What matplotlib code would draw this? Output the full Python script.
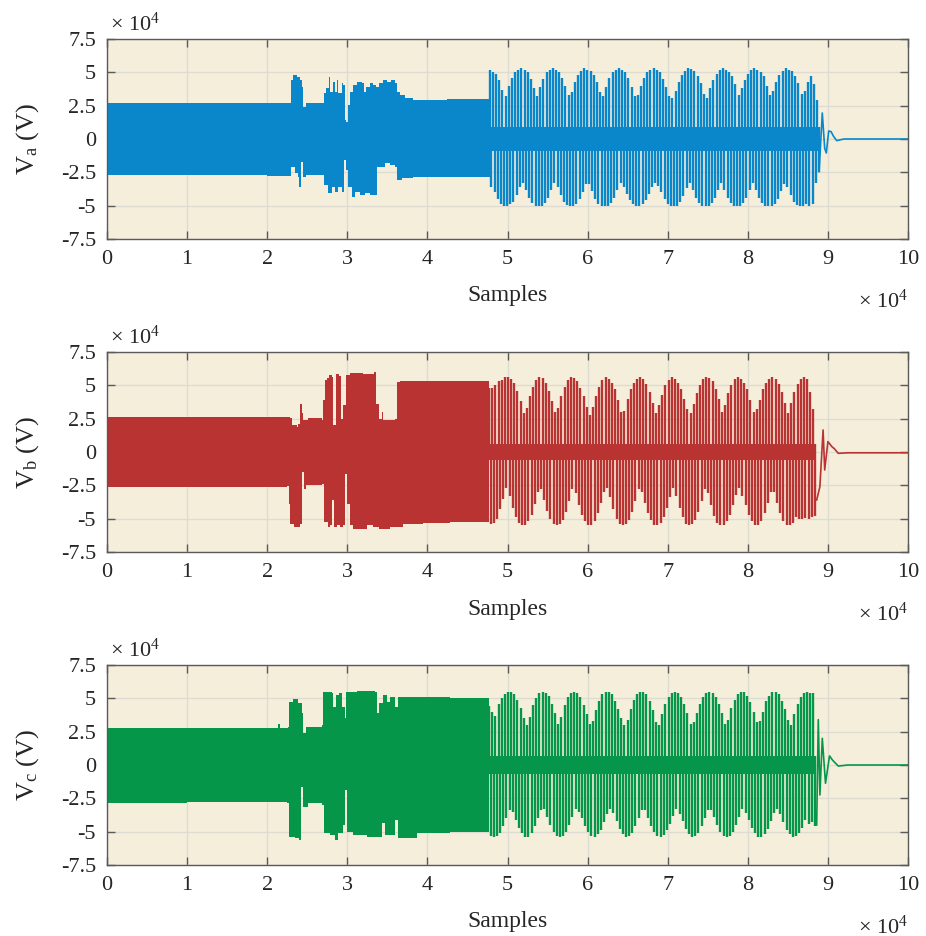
import numpy as np
import matplotlib
matplotlib.use('Agg')
import matplotlib.pyplot as plt

# ---------------- data (x in units of 1e4 samples, y in units of 1e4 V) ----------------
x_ticks = [0, 1, 2, 3, 4, 5, 6, 7, 8, 9, 10]
y_ticks = [-7.5, -5, -2.5, 0, 2.5, 5, 7.5]
y_ticklabels = ['-7.5', '-5', '-2.5', '0', '2.5', '5', '7.5']
ylabels = [r'V$_{\mathrm{a}}$ (V)', r'V$_{\mathrm{b}}$ (V)', r'V$_{\mathrm{c}}$ (V)']

# --- dense (high-frequency) part: upper / lower envelopes ---
va_hi_x = [0, 1.0, 2.0, 2.285, 2.293, 2.318, 2.368, 2.41, 2.435, 2.45, 2.49, 2.69, 2.71, 2.734, 2.776,
           2.79, 2.818, 2.847, 2.867, 2.89, 2.93, 2.95, 2.967, 2.99, 3.01, 3.03, 3.07, 3.117, 3.18, 3.21,
           3.234, 3.28, 3.325, 3.354, 3.39, 3.45, 3.49, 3.55, 3.596, 3.617, 3.66, 3.72, 3.82, 4.24, 4.78]
va_hi_y = [2.68, 2.70, 2.72, 2.72, 4.43, 4.80, 4.67, 4.43, 3.93, 2.43, 2.72, 2.72, 3.43, 3.80, 4.68,
           3.55, 4.30, 3.55, 4.43, 3.43, 4.18, 4.05, 1.43, 1.30, 2.55, 3.55, 4.05, 4.30, 4.18, 3.55,
           3.93, 4.18, 4.05, 3.93, 4.18, 4.43, 4.30, 4.43, 4.18, 3.55, 3.30, 3.05, 2.93, 2.98, 2.88]
va_lo_x = [0, 1.0, 2.0, 2.285, 2.293, 2.35, 2.39, 2.40, 2.418, 2.45, 2.49, 2.69, 2.71, 2.76, 2.805,
           2.847, 2.89, 2.93, 2.96, 2.99, 3.01, 3.055, 3.10, 3.16, 3.22, 3.28, 3.345, 3.367, 3.41, 3.47,
           3.53, 3.596, 3.625, 3.68, 3.82, 4.24, 4.78]
va_lo_y = [-2.70, -2.72, -2.75, -2.75, -2.08, -2.58, -2.83, -3.58, -1.70, -2.83, -2.70, -2.70, -3.45, -4.08, -3.58,
           -3.95, -3.58, -3.95, -1.58, -2.33, -3.58, -4.33, -3.95, -4.20, -4.08, -4.20, -4.20, -2.08, -2.08, -1.83,
           -1.95, -2.08, -3.08, -2.95, -2.83, -2.83, -2.78]

vb_hi_x = [0, 1.0, 2.0, 2.285, 2.305, 2.368, 2.39, 2.41, 2.43, 2.45, 2.51, 2.68, 2.70, 2.72, 2.75,
           2.775, 2.805, 2.825, 2.86, 2.90, 2.917, 2.95, 2.985, 3.03, 3.20, 3.333, 3.36, 3.39, 3.43, 3.45,
           3.595, 3.615, 3.66, 4.28, 4.77]
vb_hi_y = [2.63, 2.65, 2.62, 2.58, 2.00, 1.88, 2.13, 3.63, 2.93, 2.38, 2.58, 2.43, 3.88, 5.43, 5.58,
           5.76, 5.63, 2.00, 5.83, 5.68, 2.50, 3.50, 5.76, 5.93, 5.83, 6.00, 3.63, 2.50, 3.00, 2.43,
           2.50, 5.25, 5.33, 5.33, 5.13]
vb_lo_x = [0, 1.0, 2.0, 2.25, 2.27, 2.285, 2.33, 2.41, 2.43, 2.46, 2.49, 2.68, 2.71, 2.76, 2.785,
           2.805, 2.83, 2.867, 2.91, 2.95, 2.97, 3.0, 3.03, 3.075, 3.16, 3.24, 3.325, 3.39, 3.53, 3.70,
           3.95, 4.28, 4.77]
vb_lo_y = [-2.63, -2.62, -2.60, -2.58, -3.88, -5.43, -5.63, -5.38, -1.50, -2.75, -2.50, -2.38, -5.25, -5.63, -5.50,
           -3.63, -5.63, -5.50, -5.63, -5.50, -1.63, -3.88, -5.50, -5.75, -5.75, -5.50, -5.63, -5.75, -5.63, -5.38,
           -5.33, -5.25, -5.18]

vc_hi_x = [0, 1.0, 2.14, 2.16, 2.265, 2.276, 2.317, 2.39, 2.43, 2.45, 2.49, 2.68, 2.70, 2.805, 2.825,
           2.86, 2.90, 2.93, 2.97, 2.99, 3.12, 3.345, 3.365, 3.39, 3.45, 3.49, 3.53, 3.595, 3.637, 3.865,
           4.28, 4.77]
vc_hi_y = [2.80, 2.78, 3.07, 2.75, 2.82, 4.75, 4.93, 4.63, 3.88, 2.38, 2.82, 3.00, 5.50, 5.38, 4.38,
           5.25, 5.43, 4.38, 3.50, 5.50, 5.58, 5.50, 3.88, 4.63, 5.25, 4.75, 5.13, 4.38, 5.13, 5.08,
           5.00, 4.88]
vc_lo_x = [0, 1.0, 2.25, 2.27, 2.35, 2.40, 2.42, 2.45, 2.51, 2.69, 2.71, 2.785, 2.85, 2.89, 2.95,
           2.97, 3.0, 3.075, 3.24, 3.43, 3.47, 3.595, 3.637, 3.865, 4.28, 4.77]
vc_lo_y = [-2.83, -2.80, -2.83, -5.38, -5.50, -5.63, -1.63, -3.13, -2.83, -3.00, -5.13, -5.25, -5.63, -5.13, -4.50,
           -1.88, -5.00, -5.25, -5.38, -4.38, -5.25, -4.13, -5.50, -5.13, -5.00, -5.00]

# --- spiky (beating) part: first spike position, spike spacing, central band, spike peaks ---
va_spk_start, vb_spk_start, vc_spk_start = 4.78, 4.77, 4.77
spk_step = 0.0393
va_band, vb_band, vc_band = 0.9, 0.6, 0.7

va_up = [5.20, 5.00, 4.90, 4.40, 3.70, 3.20, 4.00, 4.60, 5.00, 5.20,
         5.30, 5.15, 5.00, 4.50, 3.80, 3.20, 3.90, 4.50, 5.00, 5.20,
         5.30, 5.20, 5.05, 4.60, 4.00, 3.30, 3.50, 4.30, 4.80, 5.10,
         5.30, 5.20, 5.10, 4.80, 4.30, 3.50, 3.20, 3.90, 4.60, 5.00,
         5.20, 5.30, 5.20, 5.00, 4.60, 3.90, 3.20, 3.30, 4.00, 4.60,
         5.00, 5.20, 5.30, 5.20, 5.00, 4.50, 3.90, 3.20, 3.10, 3.60,
         4.30, 4.80, 5.10, 5.30, 5.25, 5.10, 4.70, 4.20, 3.40, 3.10,
         3.80, 4.40, 4.90, 5.15, 5.30, 5.20, 5.05, 4.70, 4.10, 3.30,
         3.80, 4.40, 4.90, 5.15, 5.30, 5.20, 5.05, 4.70, 4.00, 3.30,
         3.60, 4.30, 4.80, 5.10, 5.30, 5.20, 5.10, 4.70, 4.20, 3.40,
         3.60, 4.30, 4.70, 4.10, 2.90]
va_dn = [-3.60, -4.00, -4.50, -4.85, -5.00, -5.05, -4.90, -4.70, -4.20, -3.60,
         -3.30, -3.80, -4.40, -4.80, -5.00, -5.05, -5.00, -4.80, -4.40, -3.80,
         -3.30, -3.60, -4.20, -4.70, -4.95, -5.05, -5.00, -4.85, -4.50, -4.00,
         -3.40, -3.40, -3.90, -4.50, -4.85, -5.00, -5.05, -5.00, -4.80, -4.40,
         -3.80, -3.30, -3.60, -4.10, -4.60, -4.90, -5.05, -5.05, -4.90, -4.60,
         -4.10, -3.60, -3.30, -3.50, -4.00, -4.50, -4.85, -5.00, -5.05, -5.00,
         -4.75, -4.30, -3.70, -3.30, -3.80, -4.40, -4.80, -5.00, -5.05, -5.00,
         -4.80, -4.40, -3.80, -3.30, -3.80, -4.40, -4.80, -5.00, -5.05, -5.00,
         -4.80, -4.40, -3.80, -3.30, -3.80, -4.40, -4.80, -5.00, -5.05, -5.00,
         -4.85, -4.50, -3.90, -3.40, -3.60, -4.20, -4.70, -4.95, -5.05, -5.00,
         -4.90, -5.00, -4.90, -3.30, -2.50]

vb_up = [4.80, 4.80, 5.00, 5.30, 5.40, 5.60, 5.60, 5.50, 5.20, 4.60,
         3.80, 2.90, 3.30, 4.20, 4.90, 5.40, 5.60, 5.55, 5.20, 4.60,
         3.80, 3.00, 3.30, 4.20, 4.90, 5.40, 5.60, 5.55, 5.30, 4.80,
         4.20, 3.40, 2.80, 3.40, 4.20, 4.90, 5.40, 5.60, 5.50, 5.20,
         4.70, 3.90, 3.00, 3.10, 4.00, 4.70, 5.20, 5.50, 5.60, 5.50,
         5.10, 4.50, 3.70, 2.90, 3.50, 4.30, 5.00, 5.40, 5.60, 5.50,
         5.20, 4.70, 4.00, 3.20, 2.90, 3.60, 4.40, 5.00, 5.45, 5.60,
         5.55, 5.30, 4.70, 4.00, 3.00, 3.50, 4.40, 5.00, 5.45, 5.60,
         5.50, 5.20, 4.70, 3.90, 3.00, 3.20, 3.90, 4.70, 5.20, 5.50,
         5.60, 5.50, 5.10, 4.50, 3.70, 2.90, 3.70, 4.50, 5.10, 5.50,
         5.60, 5.50, 4.50, 3.20]
vb_dn = [-5.40, -5.30, -5.00, -4.30, -3.50, -2.70, -3.30, -4.20, -4.90, -5.30,
         -5.50, -5.45, -5.20, -4.70, -3.90, -3.00, -2.80, -3.60, -4.40, -5.00,
         -5.40, -5.50, -5.40, -5.10, -4.50, -3.70, -2.80, -3.10, -4.00, -4.70,
         -5.20, -5.50, -5.45, -5.20, -4.60, -3.80, -3.00, -2.70, -3.40, -4.30,
         -5.00, -5.40, -5.50, -5.40, -5.10, -4.50, -3.70, -2.80, -3.00, -3.80,
         -4.60, -5.10, -5.45, -5.50, -5.30, -4.90, -4.20, -3.40, -2.70, -3.30,
         -4.20, -4.90, -5.40, -5.50, -5.40, -5.10, -4.50, -3.70, -2.80, -3.10,
         -4.00, -4.80, -5.30, -5.50, -5.45, -5.20, -4.70, -4.00, -3.20, -2.70,
         -3.30, -4.00, -4.70, -5.20, -5.50, -5.45, -5.20, -4.60, -3.80, -3.00,
         -3.00, -3.80, -4.60, -5.20, -5.45, -5.50, -5.30, -4.90, -5.00, -5.00,
         -4.95, -5.00, -4.90, -4.80]

vc_up = [4.40, 4.00, 3.70, 4.60, 5.00, 5.30, 5.50, 5.50, 5.30, 4.90,
         4.30, 3.50, 3.00, 3.60, 4.50, 5.00, 5.40, 5.50, 5.40, 5.15,
         4.60, 3.90, 3.10, 3.60, 4.50, 5.10, 5.40, 5.50, 5.40, 5.10,
         4.50, 3.80, 3.10, 3.30, 4.10, 4.80, 5.30, 5.50, 5.50, 5.30,
         4.80, 4.20, 3.50, 3.00, 3.40, 4.20, 4.90, 5.30, 5.50, 5.50,
         5.30, 4.80, 4.10, 3.20, 3.00, 3.80, 4.60, 5.10, 5.40, 5.50,
         5.40, 5.10, 4.60, 3.90, 3.10, 3.20, 3.90, 4.60, 5.10, 5.40,
         5.50, 5.40, 5.10, 4.60, 3.90, 3.10, 3.40, 4.30, 4.90, 5.30,
         5.50, 5.50, 5.20, 4.70, 4.00, 3.20, 3.30, 4.00, 4.80, 5.20,
         5.50, 5.50, 5.30, 4.80, 4.20, 3.40, 3.00, 3.80, 4.60, 5.10,
         5.40, 5.50, 5.40, 5.40]
vc_dn = [-5.30, -5.40, -5.35, -5.10, -4.60, -4.00, -3.40, -3.50, -4.10, -4.70,
         -5.10, -5.40, -5.40, -5.10, -4.60, -4.00, -3.40, -3.30, -3.90, -4.50,
         -5.00, -5.30, -5.40, -5.30, -5.00, -4.50, -3.90, -3.30, -3.50, -4.00,
         -4.60, -5.00, -5.35, -5.40, -5.20, -4.90, -4.30, -3.70, -3.30, -3.60,
         -4.20, -4.80, -5.20, -5.40, -5.35, -5.10, -4.60, -4.00, -3.40, -3.40,
         -4.00, -4.60, -5.05, -5.35, -5.40, -5.25, -4.90, -4.40, -3.80, -3.30,
         -3.70, -4.20, -4.80, -5.20, -5.40, -5.35, -5.10, -4.60, -4.00, -3.40,
         -3.40, -3.90, -4.50, -5.00, -5.30, -5.40, -5.30, -5.00, -4.50, -3.90,
         -3.30, -3.60, -4.10, -4.70, -5.10, -5.40, -5.40, -5.20, -4.80, -4.20,
         -3.60, -3.30, -3.70, -4.30, -4.90, -5.20, -5.40, -5.35, -5.10, -4.70,
         -4.10, -4.40, -4.30, -4.60]

# --- decaying tail after the fault is cleared ---
va_tail_x = [8.89, 8.93, 8.96, 8.98, 9.01, 9.04, 9.07, 9.11, 9.20, 10.0]
va_tail_y = [-2.45, 1.95, -0.70, -1.05, 0.60, 0.55, 0.20, -0.12, 0.00, 0.00]
vb_tail_x = [8.86, 8.90, 8.94, 8.96, 9.00, 9.05, 9.08, 9.13, 9.25, 10.0]
vb_tail_y = [-3.60, -2.60, 1.65, -1.35, 0.78, 0.40, 0.25, -0.10, -0.06, -0.06]
vc_tail_x = [8.86, 8.88, 8.90, 8.93, 8.97, 9.02, 9.06, 9.13, 9.25, 10.0]
vc_tail_y = [-4.50, 3.40, -2.25, 2.00, -1.37, 0.68, 0.35, -0.08, 0.00, 0.00]

colors = ['#0a87cb', '#b83331', '#06964a']
bg = '#f5eedb'

# ---------------- figure ----------------
plt.rcParams['font.family'] = ['Liberation Serif', 'DejaVu Serif']
plt.rcParams['mathtext.fontset'] = 'custom'
plt.rcParams['mathtext.rm'] = 'Liberation Serif'
plt.rcParams['mathtext.it'] = 'Liberation Serif:italic'

W, H = 926, 936
fig = plt.figure(figsize=(W / 100, H / 100), dpi=100)

panels = [
    (va_hi_x, va_hi_y, va_lo_x, va_lo_y, va_spk_start, va_band, va_up, va_dn, va_tail_x, va_tail_y),
    (vb_hi_x, vb_hi_y, vb_lo_x, vb_lo_y, vb_spk_start, vb_band, vb_up, vb_dn, vb_tail_x, vb_tail_y),
    (vc_hi_x, vc_hi_y, vc_lo_x, vc_lo_y, vc_spk_start, vc_band, vc_up, vc_dn, vc_tail_x, vc_tail_y),
]
tops_px = [39, 352, 665]
ax_h_px = 200
left_px, right_px = 107, 908
tick_col = '#262626'

for i, (hx, hy, lx, ly, s0, band, up, dn, tx, ty) in enumerate(panels):
    top = tops_px[i]
    ax = fig.add_axes([left_px / W, 1 - (top + ax_h_px) / H, (right_px - left_px) / W, ax_h_px / H])
    ax.set_facecolor(bg)
    c = colors[i]

    # dense region: stepped upper and lower envelopes
    ax.fill_between(hx, 0, hy, step='post', color=c, lw=0, zorder=2)
    ax.fill_between(lx, ly, 0, step='post', color=c, lw=0, zorder=2)

    # spiky region
    xs_up = s0 + spk_step * np.arange(len(up))
    xs_dn = xs_up + spk_step / 2
    ax.fill_between([s0, xs_dn[-1]], [-band, -band], [band, band], color=c, lw=0, zorder=2)
    ax.vlines(xs_up, -band, up, color=c, lw=1.7, zorder=2)
    ax.vlines(xs_dn, dn, band, color=c, lw=1.7, zorder=2)

    # tail
    ax.plot(tx, ty, color=c, lw=1.2, zorder=2)

    ax.set_xlim(0, 10)
    ax.set_ylim(-7.5, 7.5)
    ax.set_xticks(x_ticks)
    ax.set_xticklabels([str(t) for t in x_ticks])
    ax.set_yticks(y_ticks)
    ax.set_yticklabels(y_ticklabels)
    ax.grid(True, color='#dedbd3', lw=1.0, zorder=0)
    ax.set_axisbelow(True)
    ax.tick_params(direction='in', top=True, right=True, length=6, width=1.0,
                   color='#5a5a5a', labelcolor=tick_col, labelsize=16, pad=8)
    for sp in ax.spines.values():
        sp.set_color('#5a5a5a')
        sp.set_linewidth(1.0)

    ax.text(0.5, -0.285, 'Samples', transform=ax.transAxes, ha='center', va='center',
            fontsize=17, color=tick_col)
    ax.text(1.0, -0.31, r'$\times$ 10$^{4}$', transform=ax.transAxes, ha='right', va='center',
            fontsize=16, color=tick_col)
    ax.text(0.004, 1.075, r'$\times$ 10$^{4}$', transform=ax.transAxes, ha='left', va='center',
            fontsize=16, color=tick_col)
    ax.text(-0.0986, 0.5, ylabels[i], transform=ax.transAxes, rotation=90, ha='center', va='center',
            fontsize=19, color=tick_col)

fig.savefig('out.png', dpi=100, facecolor='white')
